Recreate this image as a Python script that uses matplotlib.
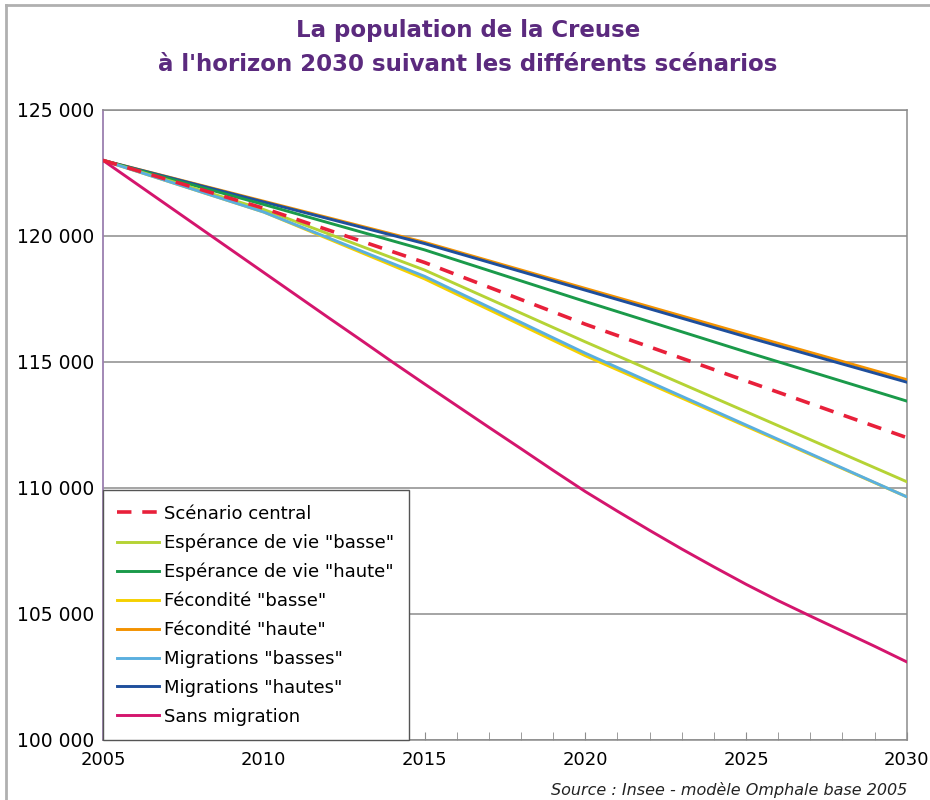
import numpy as np
import matplotlib.pyplot as plt
from matplotlib.ticker import FuncFormatter, MultipleLocator

# Valeurs (population)
annees = [2005, 2010, 2015, 2020, 2025, 2030]
central = [123000, 121100, 118950, 116500, 114250, 112000]
esp_basse = [123000, 121050, 118650, 115800, 113030, 110250]
esp_haute = [123000, 121250, 119450, 117400, 115400, 113450]
fec_basse = [123000, 120950, 118300, 115250, 112450, 109650]
fec_haute = [123000, 121380, 119750, 117920, 116100, 114300]
mig_basses = [123000, 120950, 118400, 115350, 112500, 109650]
mig_hautes = [123000, 121350, 119700, 117850, 116000, 114200]

annees_sm = list(range(2005, 2031))
sans_migration = [123000, 122110, 121220, 120330, 119440, 118550, 117660, 116770,
                  115890, 115000, 114130, 113270, 112410, 111560, 110700, 109860,
                  109080, 108320, 107580, 106870, 106180, 105530, 104920, 104320,
                  103720, 103100]

fig = plt.figure(figsize=(9.3, 8), dpi=100)
ax = fig.add_axes([0.1108, 0.075, 0.975 - 0.1108, 0.7875])

lw = 2.1
ax.plot(annees, fec_haute, color="#f39200", lw=lw, label='Fécondité "haute"', zorder=3)
ax.plot(annees, mig_hautes, color="#1f4f9c", lw=lw, label='Migrations "hautes"', zorder=4)
ax.plot(annees, esp_haute, color="#1a9a4a", lw=lw, label='Espérance de vie "haute"', zorder=4)
ax.plot(annees, central, color="#e8203a", lw=2.6, ls=(0, (4, 3)), label="Scénario central", zorder=5)
ax.plot(annees, esp_basse, color="#b5d335", lw=lw, label='Espérance de vie "basse"', zorder=4)
ax.plot(annees, fec_basse, color="#f5d000", lw=lw, label='Fécondité "basse"', zorder=3)
ax.plot(annees, mig_basses, color="#5aafdf", lw=lw, label='Migrations "basses"', zorder=4)
ax.plot(annees_sm, sans_migration, color="#d4156d", lw=lw, label="Sans migration", zorder=4)

ax.set_xlim(2005, 2030)
ax.set_ylim(100000, 125000)
ax.xaxis.set_major_locator(MultipleLocator(5))
ax.xaxis.set_minor_locator(MultipleLocator(1))
ax.yaxis.set_major_locator(MultipleLocator(5000))
ax.yaxis.set_major_formatter(FuncFormatter(lambda v, p: f"{int(v):,}".replace(",", " ")))
ax.grid(axis="y", color="#8c8c8c", lw=1.1)
ax.set_axisbelow(True)

ax.tick_params(axis="x", which="both", direction="in", length=6, color="#8c8c8c",
               labelsize=13, pad=8)
ax.tick_params(axis="y", length=0, labelsize=13.5, pad=6)
for s in ["top", "right", "bottom"]:
    ax.spines[s].set_color("#8c8c8c")
    ax.spines[s].set_linewidth(1.1)
ax.spines["left"].set_color("#9b7fb0")
ax.spines["left"].set_linewidth(1.3)

# ordre de la légende
handles, labels = ax.get_legend_handles_labels()
ordre = ["Scénario central", 'Espérance de vie "basse"', 'Espérance de vie "haute"',
         'Fécondité "basse"', 'Fécondité "haute"', 'Migrations "basses"',
         'Migrations "hautes"', "Sans migration"]
hl = dict(zip(labels, handles))
leg = ax.legend([hl[k] for k in ordre], ordre, loc="lower left",
                bbox_to_anchor=(0.0, 0.0), fontsize=13, fancybox=False,
                framealpha=1, edgecolor="#555555", borderpad=0.8,
                handlelength=2.3, handletextpad=0.3, labelspacing=0.6,
                borderaxespad=0.0)
leg.get_frame().set_linewidth(1.0)
leg.set_zorder(10)

fig.text(0.503, 0.962, "La population de la Creuse", ha="center", va="center",
         fontsize=16.5, fontweight="bold", color="#5b2a7e")
fig.text(0.503, 0.919, "à l'horizon 2030 suivant les différents scénarios",
         ha="center", va="center", fontsize=16.5, fontweight="bold", color="#5b2a7e")
fig.text(0.975, 0.003, "Source : Insee - modèle Omphale base 2005", ha="right",
         va="bottom", fontsize=11.5, style="italic", color="#222222")

# cadre gris autour de l'image
fig.add_artist(plt.Line2D([0.006, 0.006], [0, 0.994], color="#b0b0b0", lw=2,
                          transform=fig.transFigure))
fig.add_artist(plt.Line2D([0.006, 1], [0.994, 0.994], color="#b0b0b0", lw=2,
                          transform=fig.transFigure))

fig.savefig("out.png", dpi=100)
